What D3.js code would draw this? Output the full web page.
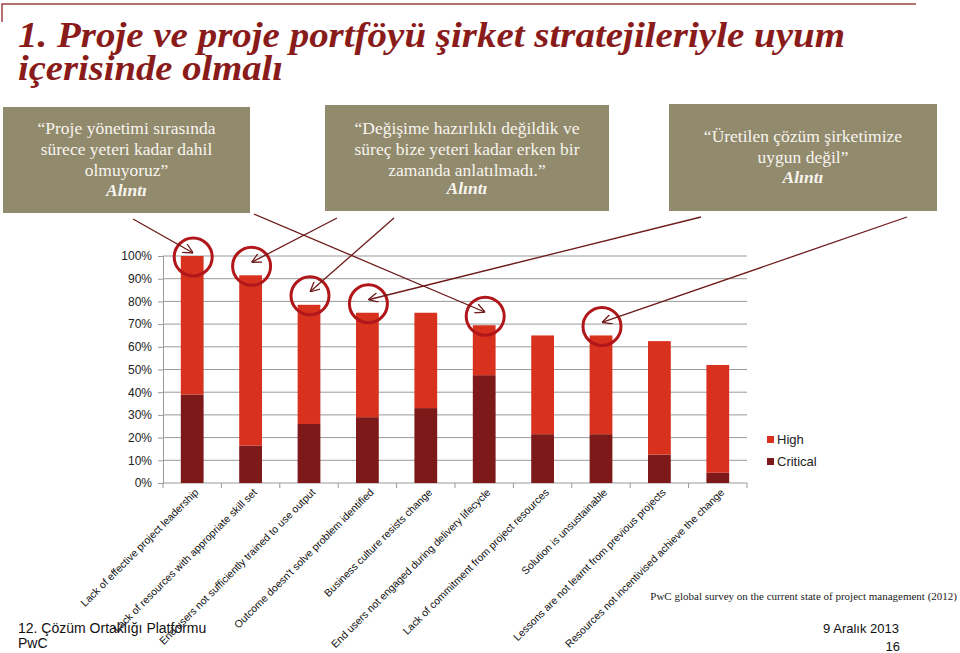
<!DOCTYPE html>
<html>
<head>
<meta charset="utf-8">
<script src="https://cdn.jsdelivr.net/npm/d3@7"></script>
<style>
  body { margin: 0; background: #fff; }
  svg { display: block; }
</style>
</head>
<body>
<svg id="slide"></svg>
<script>
// survey categories (x axis)
let categories = [
  'Lack of effective project leadership',
  'Lack of resources with  appropriate skill set',
  'End users not sufficiently trained to use output',
  "Outcome doesn't solve problem identified",
  'Business culture resists change',
  'End users not engaged during delivery lifecycle',
  'Lack of commitment from project resources',
  'Solution is unsustainable',
  'Lessons are not learnt from previous projects',
  'Resources not incentivised achieve the change',
]

// stacked series, in percent
let criticalValues = [39, 16.5, 26, 29, 33, 47.5, 21.5, 21.5, 12.5, 4.5]
let highValues = [61, 75, 52.5, 46, 42, 22, 43.5, 43.5, 50, 47.5]

let yTicks = [0, 10, 20, 30, 40, 50, 60, 70, 80, 90, 100]

// quotes in the callout boxes and which bars each one points at
let quotes = [
  { lines: ['“Proje yönetimi sırasında', 'sürece yeteri kadar dahil', 'olmuyoruz”'], targets: [0, 5] },
  { lines: ['“Değişime hazırlıklı değildik ve', 'süreç bize yeteri kadar erken bir', 'zamanda anlatılmadı.”'], targets: [1, 2] },
  { lines: ['“Üretilen çözüm şirketimize', 'uygun değil”'], targets: [3, 7] },
]

let titleLines = ['1. Proje ve proje portföyü şirket stratejileriyle uyum', 'içerisinde olmalı']

let colors = { high: '#d8321f', critical: '#7e1919', box: '#928a6c', title: '#8a1b1b', arrow: '#6e1a1a', ring: '#b0161a' }

let width = 960
let height = 653
let margins = { top: 256, bottom: 170, left: 163, right: 213 }
let innerWidth = width - margins.left - margins.right
let innerHeight = height - margins.top - margins.bottom

let svg = d3.select('svg#slide').attr('width', width).attr('height', height)

// frame line at the top
svg.append('path')
  .attr('d', 'M2,22 V4 H916')
  .attr('fill', 'none')
  .attr('stroke', '#9e4444')
  .attr('stroke-width', 1.5)

// title (stretched to the width of the original serif face)
let titleWidths = [827, 265]
svg.append('g')
  .selectAll('text')
  .data(titleLines)
  .join('text')
  .attr('x', 18)
  .attr('y', (d, i) => 47 + i * 33)
  .attr('font-family', 'Liberation Serif, serif')
  .attr('font-style', 'italic')
  .attr('font-weight', 'bold')
  .attr('font-size', 35)
  .attr('textLength', (d, i) => titleWidths[i])
  .attr('lengthAdjust', 'spacingAndGlyphs')
  .attr('fill', colors.title)
  .text(d => d)

// scales
let xScale = d3.scaleBand().domain(categories).range([0, innerWidth]).paddingInner(0.61).paddingOuter(0.305)
let yScale = d3.scaleLinear().domain([0, 100]).range([innerHeight, 0])

let chart = svg.append('g').attr('transform', `translate(${margins.left},${margins.top})`)

// gridlines
chart.append('g')
  .selectAll('line')
  .data(yTicks.slice(1))
  .join('line')
  .attr('x1', 0)
  .attr('x2', innerWidth)
  .attr('y1', d => yScale(d))
  .attr('y2', d => yScale(d))
  .attr('stroke', '#9a9a9a')
  .attr('stroke-width', 1)

// y axis
let yAxis = d3.axisLeft(yScale).tickValues(yTicks).tickFormat(d => d + '%').tickSize(5).tickPadding(6)
chart.append('g')
  .call(yAxis)
  .call(g => g.select('.domain').attr('stroke', '#9a9a9a'))
  .call(g => g.selectAll('.tick line').attr('stroke', '#9a9a9a'))
  .call(g => g.selectAll('text').attr('font-family', 'Liberation Sans, Arial, sans-serif').attr('font-size', 12).attr('fill', '#222'))

// x axis line with ticks between categories
let step = xScale.step()
chart.append('line')
  .attr('x1', 0).attr('x2', innerWidth)
  .attr('y1', innerHeight).attr('y2', innerHeight)
  .attr('stroke', '#9a9a9a')
chart.append('g')
  .selectAll('line')
  .data(d3.range(categories.length + 1))
  .join('line')
  .attr('x1', i => i * step)
  .attr('x2', i => i * step)
  .attr('y1', innerHeight)
  .attr('y2', innerHeight + 5)
  .attr('stroke', '#9a9a9a')

// stacked bars
let table = categories.map((c, i) => ({ category: c, critical: criticalValues[i], high: highValues[i] }))
let stacked = d3.stack().keys(['critical', 'high'])(table)

chart.append('g')
  .selectAll('g')
  .data(stacked)
  .join('g')
  .attr('fill', d => colors[d.key])
  .selectAll('rect')
  .data(d => d)
  .join('rect')
  .attr('x', d => xScale(d.data.category))
  .attr('width', xScale.bandwidth())
  .attr('y', d => yScale(d[1]))
  .attr('height', d => yScale(d[0]) - yScale(d[1]))

// category labels, rotated
chart.append('g')
  .selectAll('text')
  .data(categories)
  .join('text')
  .attr('transform', d => `translate(${xScale(d) + xScale.bandwidth() / 2 + 7},${innerHeight + 10}) rotate(-45)`)
  .attr('text-anchor', 'end')
  .attr('font-family', 'Liberation Sans, Arial, sans-serif')
  .attr('font-size', 10.5)
  .attr('fill', '#111')
  .text(d => d)

// legend
let legend = svg.append('g').attr('transform', 'translate(767,436)')
let legendItems = [{ key: 'high', label: 'High' }, { key: 'critical', label: 'Critical' }]
legend.selectAll('rect')
  .data(legendItems)
  .join('rect')
  .attr('x', 0)
  .attr('y', (d, i) => i * 22)
  .attr('width', 7)
  .attr('height', 7)
  .attr('fill', d => colors[d.key])
legend.selectAll('text')
  .data(legendItems)
  .join('text')
  .attr('x', 10)
  .attr('y', (d, i) => i * 22 + 8)
  .attr('font-family', 'Liberation Sans, Arial, sans-serif')
  .attr('font-size', 13)
  .attr('fill', '#222')
  .text(d => d.label)

// callout boxes
let boxes = [
  { x: 3, y: 107, w: 247, h: 106, ys: [134, 155, 176, 196], from: [[133, 219], [254, 214]] },
  { x: 325, y: 105, w: 284, h: 106, ys: [134, 155, 176, 194], from: [[337, 218], [394, 218]] },
  { x: 669, y: 104, w: 268, h: 107, ys: [142, 163, 183], from: [[701, 217], [907, 217]] },
]
let boxG = svg.append('g')
  .selectAll('g')
  .data(quotes)
  .join('g')
boxG.append('rect')
  .attr('x', (d, i) => boxes[i].x)
  .attr('y', (d, i) => boxes[i].y)
  .attr('width', (d, i) => boxes[i].w)
  .attr('height', (d, i) => boxes[i].h)
  .attr('fill', colors.box)
boxG.each(function (d, i) {
  let b = boxes[i]
  let cx = b.x + b.w / 2
  let g = d3.select(this)
  d.lines.concat(['Alıntı']).forEach((line, j) => {
    let last = j === d.lines.length
    g.append('text')
      .attr('x', cx)
      .attr('y', b.ys[j])
      .attr('text-anchor', 'middle')
      .attr('font-family', 'Liberation Serif, serif')
      .attr('font-size', 17.5)
      .attr('font-style', last ? 'italic' : 'normal')
      .attr('font-weight', last ? 'bold' : 'normal')
      .attr('fill', '#f7f5ef')
      .text(line)
  })
})

// arrows and rings around the pointed bars
svg.append('defs')
  .append('marker')
  .attr('id', 'head')
  .attr('viewBox', '0 0 10 10')
  .attr('refX', 10)
  .attr('refY', 5)
  .attr('markerWidth', 10)
  .attr('markerHeight', 10)
  .attr('markerUnits', 'userSpaceOnUse')
  .attr('orient', 'auto')
  .append('path')
  .attr('d', 'M0,0 L10,5 L0,10')
  .attr('fill', 'none')
  .attr('stroke', colors.arrow)
  .attr('stroke-width', 1.3)

let total = i => criticalValues[i] + highValues[i]
let ringCenter = i => [
  margins.left + xScale(categories[i]) + xScale.bandwidth() / 2 + 1,
  margins.top + Math.max(yScale(total(i)) - 9, 1),
]

let annotations = []
quotes.forEach((q, qi) => q.targets.forEach((t, k) => annotations.push({ target: t, from: boxes[qi].from[k] })))

svg.append('g')
  .selectAll('circle')
  .data(annotations)
  .join('circle')
  .attr('cx', d => ringCenter(d.target)[0])
  .attr('cy', d => ringCenter(d.target)[1])
  .attr('r', 19)
  .attr('fill', 'none')
  .attr('stroke', colors.ring)
  .attr('stroke-width', 3)

svg.append('g')
  .selectAll('line')
  .data(annotations)
  .join('line')
  .attr('x1', d => d.from[0])
  .attr('y1', d => d.from[1])
  .attr('x2', d => ringCenter(d.target)[0])
  .attr('y2', d => ringCenter(d.target)[1] - 4)
  .attr('stroke', colors.arrow)
  .attr('stroke-width', 1.3)
  .attr('marker-end', 'url(#head)')

// footer texts
svg.append('text')
  .attr('x', 957).attr('y', 600)
  .attr('text-anchor', 'end')
  .attr('font-family', 'Liberation Serif, serif')
  .attr('font-size', 11)
  .attr('fill', '#222')
  .text('PwC global survey on the current state of project management (2012)')

let sans = 'Liberation Sans, Arial, sans-serif'
svg.append('text').attr('x', 18).attr('y', 633).attr('font-family', sans).attr('font-size', 14).attr('fill', '#111').text('12. Çözüm Ortaklığı Platformu')
svg.append('text').attr('x', 18).attr('y', 648).attr('font-family', sans).attr('font-size', 14).attr('fill', '#111').text('PwC')
svg.append('text').attr('x', 899).attr('y', 633).attr('text-anchor', 'end').attr('font-family', sans).attr('font-size', 13).attr('fill', '#111').text('9 Aralık 2013')
svg.append('text').attr('x', 900).attr('y', 651).attr('text-anchor', 'end').attr('font-family', sans).attr('font-size', 13).attr('fill', '#111').text('16')
</script>
</body>
</html>
